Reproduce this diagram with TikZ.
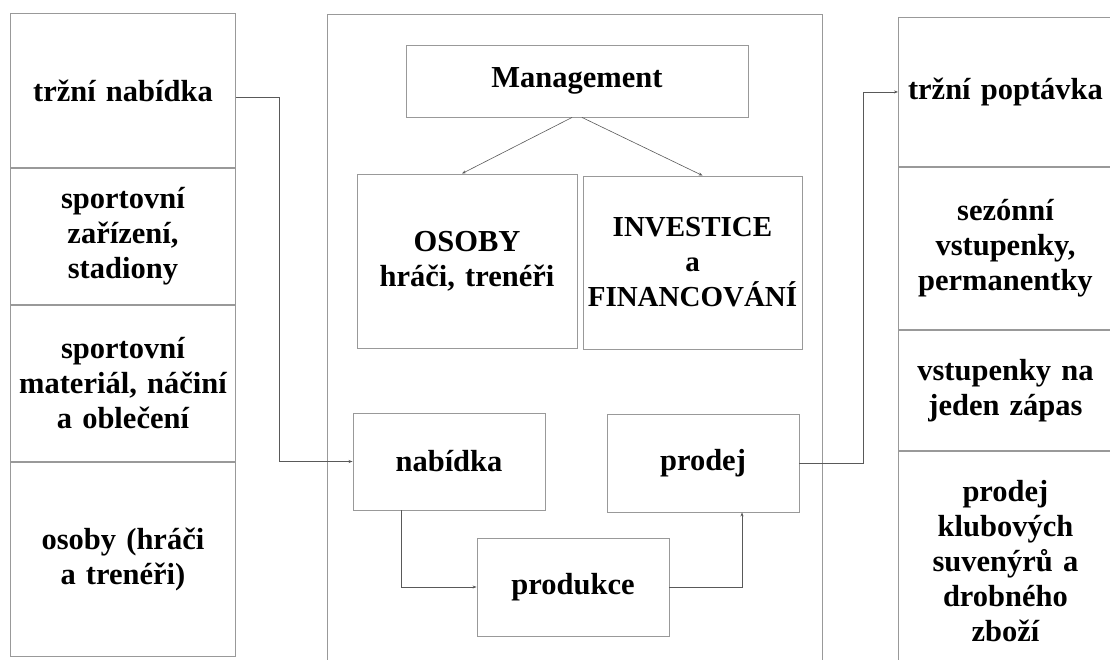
\documentclass[tikz,border=0pt]{standalone}
\usepackage{fontspec}
\setmainfont{Liberation Serif}
\usepackage{tikz}
\usetikzlibrary{arrows.meta}
\usetikzlibrary{positioning}

\tikzset{
    box/.style={draw=black!40, line width=0.9pt, inner sep=0pt, align=center,
        font=\bfseries\fontsize{30.5}{35}\selectfont},
    lcell/.style={box, text width=225pt},
    rcell/.style={box, text width=214pt},
    flow/.style={draw=black!65, line width=0.6pt, -{Stealth[length=4pt,width=3pt]}},
}

\begin{document}
\begin{tikzpicture}[x=1pt, y=-1pt]
    \useasboundingbox (0,0) rectangle (1110,660);

    \node[box, minimum width=495pt, minimum height=670pt, anchor=north west] (frame) at (327,14) {};

    \node[lcell, minimum height=154pt, anchor=north west] (l1) at (10,13) {tržní nabídka};
    \node[lcell, minimum height=136pt, below=0pt of l1] (l2) {sportovní\\zařízení,\\stadiony};
    \node[lcell, minimum height=156pt, below=0pt of l2] (l3) {sportovní\\materiál, náčiní\\a oblečení};
    \node[lcell, minimum height=194pt, below=0pt of l3] (l4) {osoby (hráči\\a trenéři)};

    \node[rcell, minimum height=149pt, anchor=north west] (r1) at (898,17) {tržní poptávka};
    \node[rcell, minimum height=162pt, below=0pt of r1] (r2) {sezónní\\vstupenky,\\permanentky};
    \node[rcell, minimum height=120pt, below=0pt of r2] (r3) {vstupenky na\\jeden zápas};
    \node[rcell, minimum height=220pt, below=0pt of r3] (r4) {prodej\\klubových\\suvenýrů a\\drobného\\zboží};

    \node[box, minimum width=342pt, minimum height=72pt] (mgmt) at (577,81) {Management};
    \node[box, text width=220pt, minimum height=174pt] (osoby) at (467,261) {OSOBY\\hráči, trenéři};
    \node[box, text width=219pt, minimum height=173pt, font=\bfseries\fontsize{29}{35}\selectfont] (invest) at (692.5,262.5) {INVESTICE\\a\\FINANCOVÁNÍ};

    \node[box, minimum width=192pt, minimum height=97pt] (nabidka) at (449,461.5) {nabídka};
    \node[box, minimum width=192pt, minimum height=98pt] (prodej) at (703,463) {prodej};
    \node[box, minimum width=192pt, minimum height=98pt] (produkce) at (573,587) {produkce};

    \draw[flow] ([xshift=-5pt]mgmt.south) -- ([xshift=-5pt]osoby.north);
    \draw[flow] ([xshift=5pt]mgmt.south) -- ([xshift=10pt]invest.north);
    \draw[flow] ([yshift=-7pt]l1.east) -- ++(43,0) |- (nabidka.west);
    \draw[flow] ([xshift=-48pt]nabidka.south) |- (produkce.west);
    \draw[flow] (produkce.east) -| ([xshift=39pt]prodej.south);
    \draw[flow] (prodej.east) -- ++(64,0) |- (r1.west);
\end{tikzpicture}
\end{document}
